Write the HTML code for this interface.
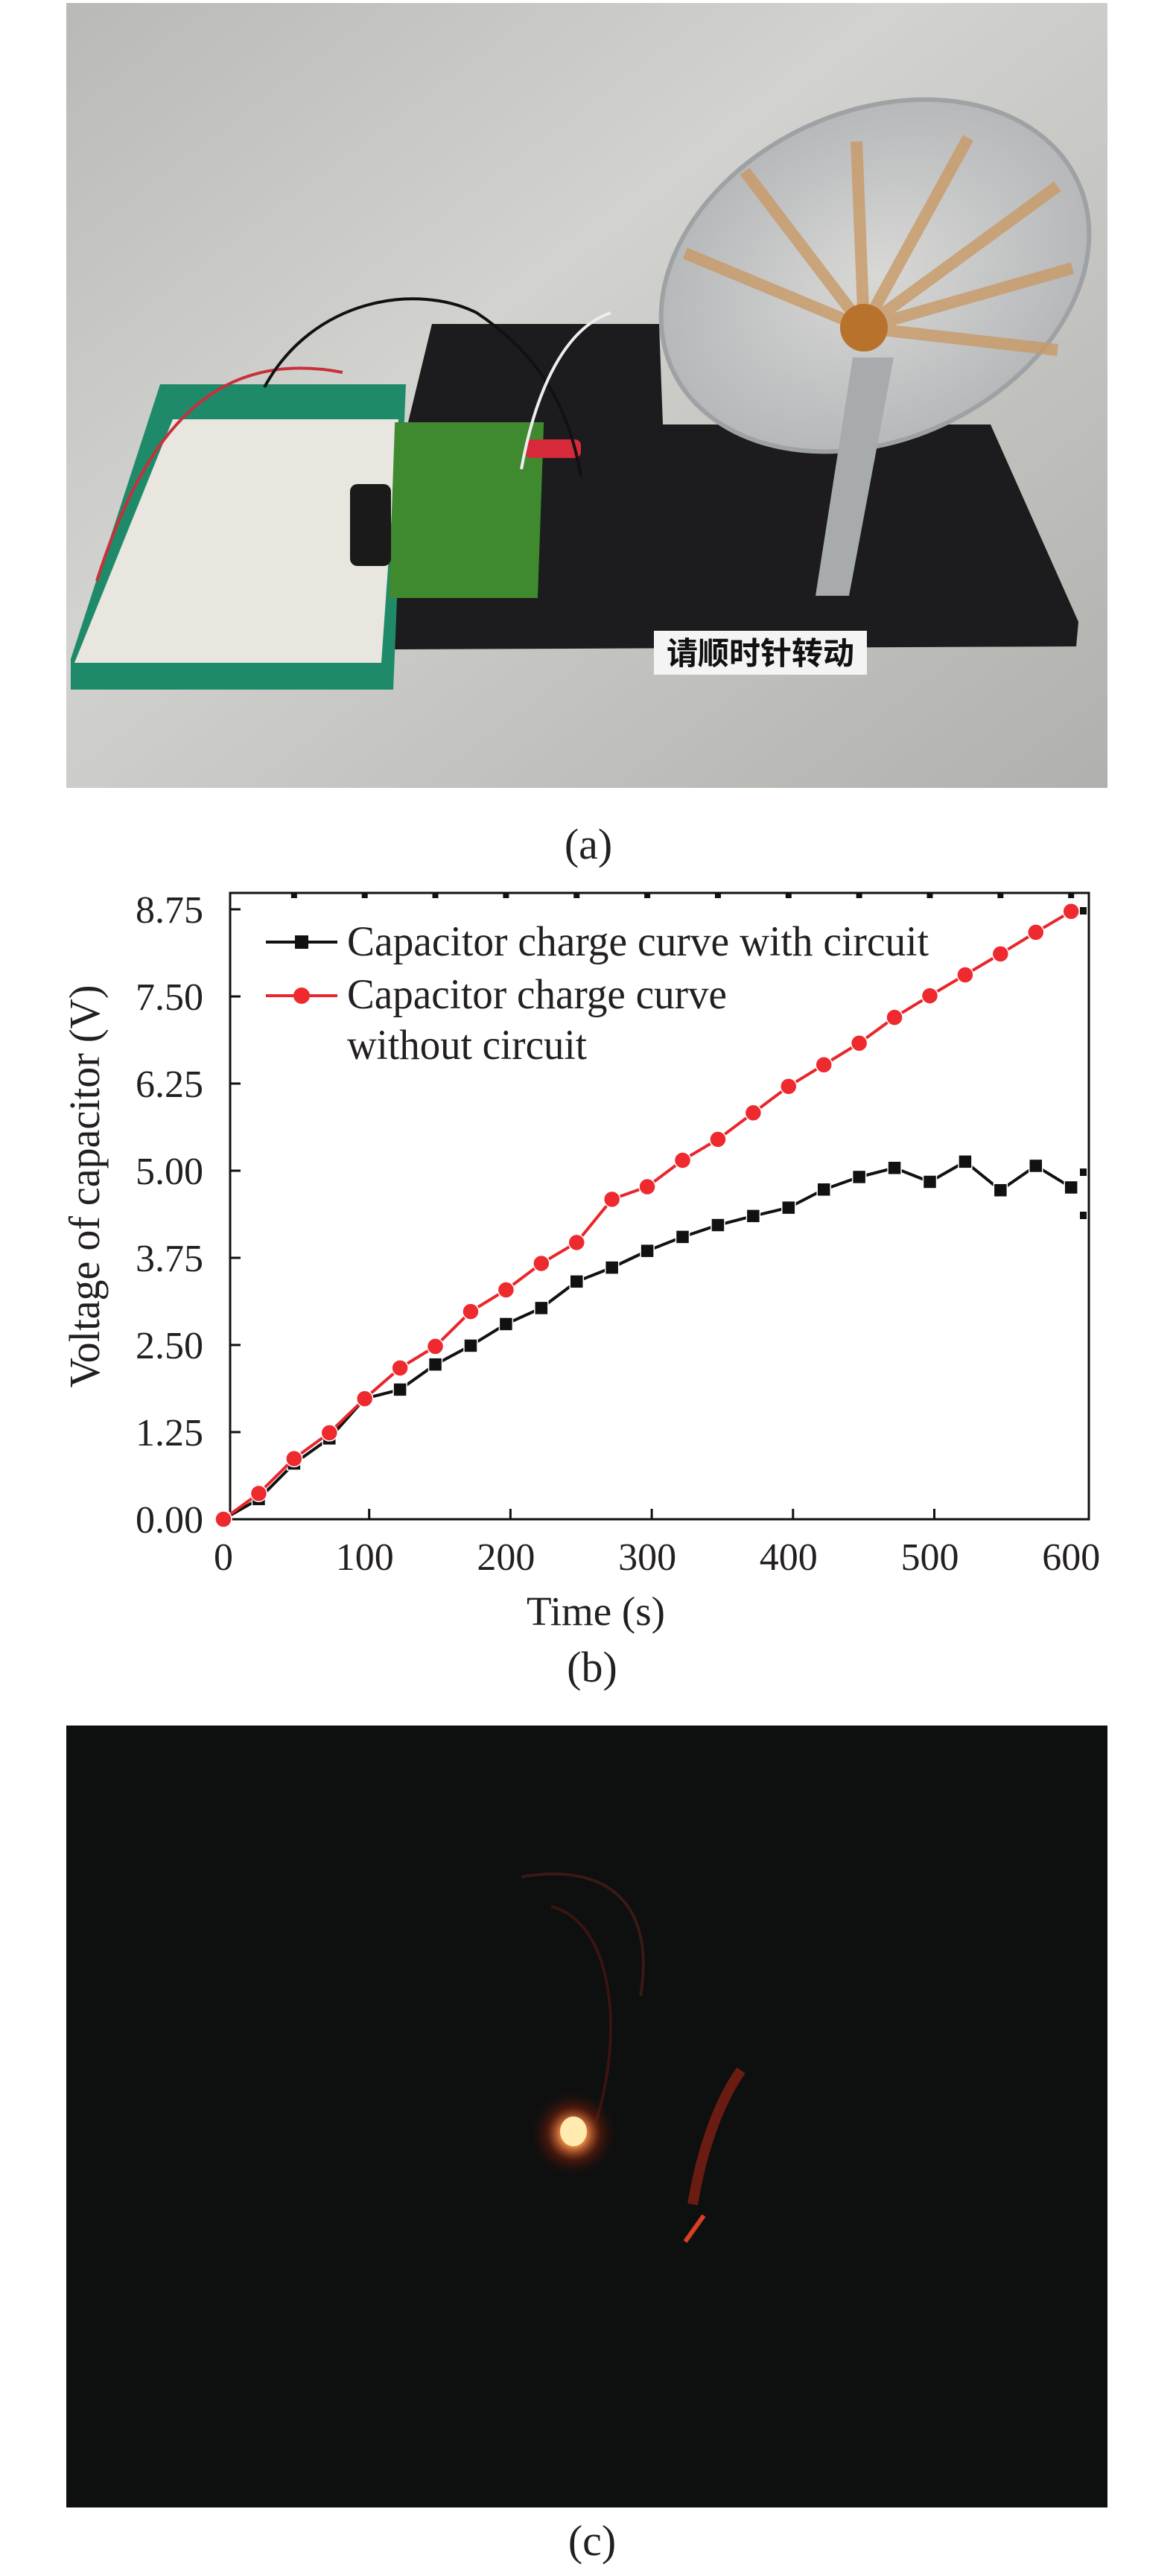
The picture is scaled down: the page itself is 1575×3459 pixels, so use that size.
<!DOCTYPE html>
<html><head><meta charset="utf-8"><style>
html,body{margin:0;padding:0;background:#fff;}
body{width:1575px;height:3459px;position:relative;overflow:hidden;font-family:"Liberation Serif",serif;}
.cap{position:absolute;font-family:"Liberation Serif",serif;font-size:58px;color:#231f20;text-align:center;width:200px;}
</style></head><body>
<svg style="position:absolute;left:89px;top:4px" width="1398" height="1054" viewBox="89 4 1398 1054">
 <defs>
  <linearGradient id="floor" x1="0" y1="0" x2="1" y2="1"><stop offset="0" stop-color="#b9b9b6"/><stop offset="0.4" stop-color="#d2d2cf"/><stop offset="1" stop-color="#b0b0ad"/></linearGradient>
  <radialGradient id="disc" cx="0.5" cy="0.5" r="0.5"><stop offset="0" stop-color="#d8d8d6"/><stop offset="1" stop-color="#b6b8ba"/></radialGradient>
 </defs>
 <rect x="89" y="4" width="1398" height="1054" fill="url(#floor)"/>
 <polygon points="580,435 885,435 890,570 1330,570 1448,835 1445,868 530,872 540,600" fill="#1c1c1f"/>
 <polygon points="215,516 545,516 528,926 95,926 95,885" fill="#1f8a6a"/>
 <polygon points="232,563 535,563 512,890 100,890" fill="#e8e6df"/>
 <rect x="550" y="567" width="200" height="236" fill="#3f8a2f" transform="skewX(-2)"/>
 <rect x="470" y="650" width="55" height="110" rx="10" fill="#1a1a1a"/>
 <rect x="705" y="590" width="75" height="25" rx="8" fill="#d62a3a"/>
 <path d="M130,780 C200,560 300,470 460,500" stroke="#c8303a" stroke-width="4" fill="none"/>
 <path d="M355,520 C420,400 560,380 640,420 C700,460 760,520 780,640" stroke="#111" stroke-width="4" fill="none"/>
 <path d="M700,630 C720,520 760,440 820,420" stroke="#eee" stroke-width="4" fill="none"/>
 <ellipse cx="1175" cy="370" rx="300" ry="220" transform="rotate(-25 1175 370)" fill="url(#disc)" stroke="#9fa2a5" stroke-width="6"/>
 <g stroke="#c99a66" stroke-width="16" opacity="0.8">
  <line x1="1160" y1="440" x2="1420" y2="250"/><line x1="1160" y1="440" x2="1300" y2="185"/><line x1="1160" y1="440" x2="1440" y2="360"/><line x1="1160" y1="440" x2="1000" y2="230"/><line x1="1160" y1="440" x2="1420" y2="470"/><line x1="1160" y1="440" x2="920" y2="340"/><line x1="1160" y1="440" x2="1150" y2="190"/>
 </g>
 <circle cx="1160" cy="440" r="32" fill="#b8722c"/>
 <polygon points="1145,480 1200,480 1140,800 1095,800" fill="#a8abae"/>
 <rect x="878" y="847" width="286" height="59" fill="#f4f4f4"/>
 <text x="1021" y="892" font-family="Noto Sans CJK SC, WenQuanYi Zen Hei, sans-serif" font-size="42" font-weight="bold" text-anchor="middle" fill="#111">请顺时针转动</text>
</svg>
<div class="cap" style="left:690px;top:1100px">(a)</div>

<svg id="chart" style="position:absolute;left:0;top:1150px" width="1575" height="1150" viewBox="0 1150 1575 1150"></svg>
<div class="cap" style="left:695px;top:2205px">(b)</div>

<svg style="position:absolute;left:89px;top:2317px" width="1398" height="1050" viewBox="89 2317 1398 1050">
 <defs><radialGradient id="glow" cx="0.5" cy="0.5" r="0.5"><stop offset="0" stop-color="#fff4c0"/><stop offset="0.25" stop-color="#ff9a50"/><stop offset="0.6" stop-color="#80200a" stop-opacity="0.5"/><stop offset="1" stop-color="#0f0f0f" stop-opacity="0"/></radialGradient></defs>
 <rect x="89" y="2317" width="1398" height="1050" fill="#0e0f0f"/>
 <path d="M700,2520 C820,2500 880,2560 860,2680" stroke="#3a1a14" stroke-width="4" fill="none"/>
 <path d="M740,2560 C820,2580 840,2720 800,2850" stroke="#3a1410" stroke-width="4" fill="none"/>
 <circle cx="770" cy="2865" r="60" fill="url(#glow)"/>
 <ellipse cx="770" cy="2862" rx="18" ry="20" fill="#ffeab0"/>
 <path d="M995,2780 C960,2830 940,2900 930,2960" stroke="#6a1c12" stroke-width="14" fill="none"/>
 <path d="M945,2975 L920,3010" stroke="#d84020" stroke-width="6"/>
</svg>
<div class="cap" style="left:695px;top:3378px">(c)</div>

<script>
const times = [0,25,50,75,100,125,150,175,200,225,250,275,300,325,350,375,400,425,450,475,500,525,550,575,600];
const withCircuit = [0,0.29,0.80,1.16,1.73,1.86,2.22,2.49,2.80,3.03,3.41,3.61,3.85,4.05,4.22,4.35,4.47,4.73,4.91,5.04,4.84,5.13,4.72,5.07,4.76];
const withoutCircuit = [0,0.37,0.87,1.24,1.73,2.17,2.48,2.98,3.29,3.67,3.97,4.59,4.77,5.15,5.45,5.83,6.21,6.52,6.83,7.20,7.51,7.81,8.11,8.42,8.72];
const xTicks = [0,100,200,300,400,500,600];
const yTicks = [0,1.25,2.5,3.75,5,6.25,7.5,8.75];
const yTickLabels = ["0.00","1.25","2.50","3.75","5.00","6.25","7.50","8.75"];
const topTicks = [50,100,150,200,250,300,350,400,450,500,550,600];

const NS="http://www.w3.org/2000/svg";
const svg=document.getElementById('chart');
const X=t=>300+1.897*t;
const Y=v=>2040-93.6*v;
const L=309,R=1462,T=1199,B=2040;
function mk(tag,attrs,parent){const e=document.createElementNS(NS,tag);for(const k in attrs)e.setAttribute(k,attrs[k]);(parent||svg).appendChild(e);return e;}

const box=mk('rect',{x:L,y:T,width:R-L,height:B-T,fill:'none',stroke:'#111','stroke-width':3});



yTicks.forEach((v,i)=>{
  const tk=mk('line',{x1:L,x2:L+14,y1:Y(v),y2:Y(v),stroke:'#111','stroke-width':3});
  
  
  const tx=mk('text',{x:273,y:Y(v)+18,'text-anchor':'end','font-size':52,fill:'#231f20','font-family':'Liberation Serif, serif'});
  tx.textContent=yTickLabels[i];
  
  
});
xTicks.forEach(v=>{
  if(v>0&&v<600){
    const tk=mk('line',{x1:X(v)+6,x2:X(v)+6,y1:B,y2:B-14,stroke:'#111','stroke-width':3});
    
    
  }
  const tx=mk('text',{x:X(v),y:2108,'text-anchor':'middle','font-size':52,fill:'#231f20','font-family':'Liberation Serif, serif'});
  tx.textContent=String(v);
  
  
});
topTicks.forEach(v=>{
  const d=mk('rect',{x:X(v)-4,y:T,width:8,height:7,fill:'#111'});
  
  
});
[[1454,1223],[1454,1574],[1454,1632]].forEach(p=>{
  const s=mk('rect',{x:p[0]-4,y:p[1]-5,width:9,height:10,fill:'#111'});
  
  
});

function series(vals,color,name,shape){
  const g=mk('g',{});
  
  
  const pts=vals.map((v,i)=>X(times[i])+','+Y(v)).join(' ');
  mk('polyline',{points:pts,fill:'none',stroke:color,'stroke-width':4},g);
  vals.forEach((v,i)=>{
    let m;
    if(shape==='sq') m=mk('rect',{x:X(times[i])-9,y:Y(v)-9,width:18,height:18,fill:'#111',stroke:'#fff','stroke-width':1.5},g);
    else m=mk('circle',{cx:X(times[i]),cy:Y(v),r:11,fill:'#ee2a2f',stroke:'#fff','stroke-width':1.5},g);
    
    
  });
}
series(withCircuit,'#111','series-with-circuit','sq');
series(withoutCircuit,'#e8262c','series-without-circuit','ci');

// legend
const lg=mk('g',{});


mk('line',{x1:357,x2:453,y1:1265,y2:1265,stroke:'#111','stroke-width':4},lg);
mk('rect',{x:396,y:1256,width:18,height:18,fill:'#111'},lg);
mk('line',{x1:357,x2:453,y1:1337,y2:1337,stroke:'#e8262c','stroke-width':4},lg);
mk('circle',{cx:405,cy:1337,r:11,fill:'#ee2a2f'},lg);
const lt1=mk('text',{x:466,y:1283,'font-size':57,fill:'#231f20',textLength:781,lengthAdjust:'spacingAndGlyphs','font-family':'Liberation Serif, serif'},lg);
lt1.textContent='Capacitor charge curve with circuit';


const lt2=mk('text',{x:466,y:1354,'font-size':57,fill:'#231f20',textLength:510,lengthAdjust:'spacingAndGlyphs','font-family':'Liberation Serif, serif'},lg);
lt2.textContent='Capacitor charge curve';


const lt3=mk('text',{x:466,y:1422,'font-size':57,fill:'#231f20',textLength:322,lengthAdjust:'spacingAndGlyphs','font-family':'Liberation Serif, serif'},lg);
lt3.textContent='without circuit';



const xt=mk('text',{x:800,y:2182,'text-anchor':'middle','font-size':55,fill:'#231f20','font-family':'Liberation Serif, serif'});
xt.textContent='Time (s)';


const yt=mk('text',{x:0,y:0,'text-anchor':'middle','font-size':58,fill:'#231f20',textLength:541,lengthAdjust:'spacingAndGlyphs',transform:'translate(133,1593) rotate(-90)','font-family':'Liberation Serif, serif'});
yt.textContent='Voltage of capacitor (V)';


</script>
</body></html>
